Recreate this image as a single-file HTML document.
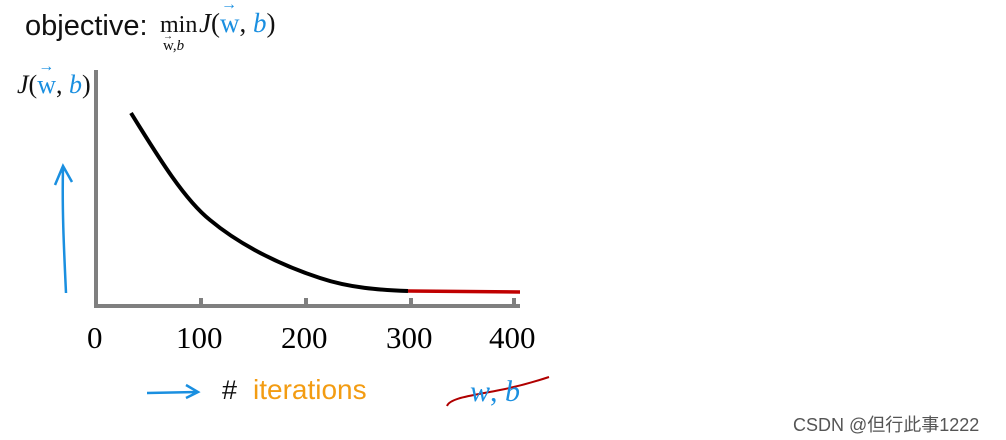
<!DOCTYPE html>
<html><head><style>
body{margin:0;width:1006px;height:440px;background:#fff;overflow:hidden;position:relative;font-family:"Liberation Sans",sans-serif}
.t{position:absolute;white-space:nowrap}
.s{font-family:"Liberation Serif",serif}
.b{color:#1a8fe0}
</style></head><body>
<div class="t" style="left:25px;top:10px;font-size:29px;color:#111">objective:</div>
<div class="t s" style="left:160px;top:12px;font-size:24px;color:#111">min</div>
<div class="t s" style="left:163px;top:38px;font-size:15px;color:#111">w,<i>b</i></div>
<div class="t s" style="left:163px;top:31px;font-size:10px;color:#111">→</div>
<div class="t s" style="left:199px;top:8px;font-size:27px;color:#111"><i>J</i>(<span class="b" style="position:relative">w<span style="position:absolute;left:1px;top:-12px;font-size:16px">→</span></span>, <i class="b">b</i>)</div>
<div class="t s" style="left:17px;top:70px;font-size:26px;color:#111"><i>J</i>(<span class="b" style="position:relative">w<span style="position:absolute;left:1px;top:-12px;font-size:16px">→</span></span>, <i class="b">b</i>)</div>
<svg width="1006" height="440" style="position:absolute;left:0;top:0">
<line x1="96" y1="70" x2="96" y2="308" stroke="#7f7f7f" stroke-width="4"/>
<line x1="94" y1="306" x2="520" y2="306" stroke="#7f7f7f" stroke-width="4"/>
<g stroke="#7f7f7f" stroke-width="4"><line x1="201" y1="298" x2="201" y2="306"/><line x1="306" y1="298" x2="306" y2="306"/><line x1="411" y1="298" x2="411" y2="306"/><line x1="514" y1="298" x2="514" y2="306"/></g>
<path d="M131 113 C160 160,185 200,210 220 C240 245,280 265,320 278 C350 288,380 290,408 291" fill="none" stroke="#000" stroke-width="4"/>
<path d="M408 291 L520 292" stroke="#c00000" stroke-width="3.5" fill="none"/>
<path d="M66 293 C64 250,62 210,63 168 M55 185 L63 166 L72 182" fill="none" stroke="#1a8fe0" stroke-width="2.5"/>
<path d="M147 393 L197 392 M186 385 L198 392 L186 398" fill="none" stroke="#1a8fe0" stroke-width="2.5"/>
<path d="M447 406 C450 398,470 396,500 390 C520 386,540 380,549 377" fill="none" stroke="#b00000" stroke-width="2"/>
</svg>
<div class="t s" style="left:87px;top:320px;font-size:31px">0</div>
<div class="t s" style="left:176px;top:320px;font-size:31px">100</div>
<div class="t s" style="left:281px;top:320px;font-size:31px">200</div>
<div class="t s" style="left:386px;top:320px;font-size:31px">300</div>
<div class="t s" style="left:489px;top:320px;font-size:31px">400</div>
<div class="t" style="left:222px;top:375px;font-size:27px;color:#111">#</div>
<div class="t" style="left:253px;top:374px;font-size:28px;color:#f39c12">iterations</div>
<div class="t s b" style="left:470px;top:375px;font-size:30px"><i>w</i>, <i>b</i></div>
<div class="t" style="left:793px;top:411px;font-size:18px;color:#555">CSDN @但行此事1222</div>
</body></html>
